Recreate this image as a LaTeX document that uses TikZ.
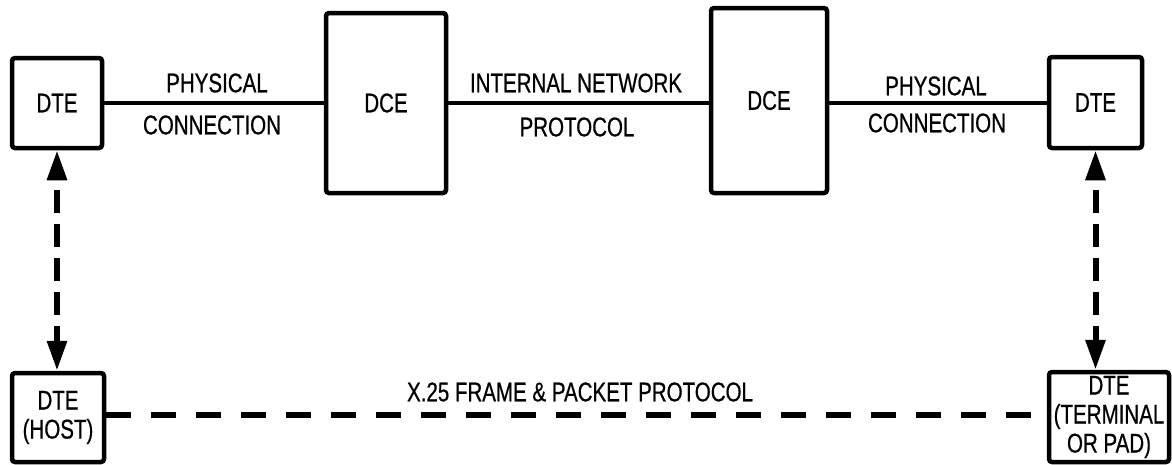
\documentclass[tikz,border=0pt]{standalone}
\usepackage{fontspec}
\setmainfont{Liberation Sans}[FakeStretch=0.76, FakeBold=0.6]
\usetikzlibrary{arrows.meta}
\begin{document}
\begin{tikzpicture}[x=1pt, y=-1pt,
  unit/.style={draw, line width=4.5pt, rounded corners=3pt, inner sep=0pt,
    align=center, font=\fontsize{27}{29}\selectfont},
  lbl/.style={inner sep=0pt, font=\fontsize{27}{29}\selectfont},
  wire/.style={line width=4pt},
  linkdash/.style={line width=5.5pt, dash pattern=on 25pt off 20pt},
  peer/.style={line width=6pt, dash pattern=on 23pt off 11pt, dash phase=23pt,
    {Triangle[length=30pt, width=19pt]}-{Triangle[length=30pt, width=19pt]}}]
\useasboundingbox (0,0) rectangle (1172,464);

% equipment boxes
\node[unit, minimum width=90pt, minimum height=90pt] (dteA) at (57,103) {DTE};
\node[unit, minimum width=120pt, minimum height=180pt] (dceA) at (386,103) {DCE};
\node[unit, minimum width=116pt, minimum height=185pt] (dceB) at (769,100.5) {DCE};
\node[unit, minimum width=93pt, minimum height=91pt] (dteB) at (1095.5,102.5) {DTE};
\node[unit, minimum width=92pt, minimum height=89pt] (host) at (58,417.5) {DTE\\(HOST)};
\node[unit, minimum width=120pt, minimum height=90pt] (term) at (1109,417) {DTE\\(TERMINAL\\OR PAD)};

% physical links along the top
\draw[wire] (dteA.east) -- (dceA.west);
\draw[wire] (dceA.east) -- (dceA.east -| dceB.west);
\draw[wire] (dteB.west -| dceB.east) -- (dteB.west);

% link labels
\node[lbl] (physA) at (217,83) {PHYSICAL};
\node[lbl] (connA) at (212,125) {CONNECTION};
\node[lbl] (inet) at (576,83) {INTERNAL NETWORK};
\node[lbl] (iprot) at (577,127) {PROTOCOL};
\node[lbl] (physB) at (936,86) {PHYSICAL};
\node[lbl] (connB) at (937,123) {CONNECTION};

% end-to-end relations
\draw[peer] (dteA.south) -- (dteA.south |- host.north);
\draw[peer] (dteB.south) -- (dteB.south |- term.north);
\draw[linkdash] ([yshift=2.5pt]host.east) -- ([yshift=2.5pt]host.east -| term.west);
\node[lbl] (x25) at (580,392) {X.25 FRAME \& PACKET PROTOCOL};
\end{tikzpicture}
\end{document}
